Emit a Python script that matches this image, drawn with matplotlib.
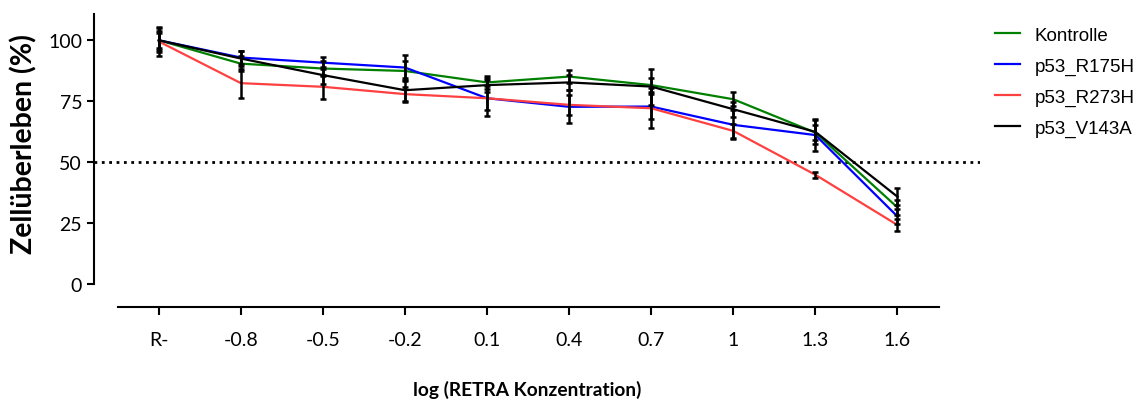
import numpy as np
import matplotlib.pyplot as plt

plt.rcParams['font.family'] = ['Lato', 'DejaVu Sans']

konz = ['R-', '-0.8', '-0.5', '-0.2', '0.1', '0.4', '0.7', '1', '1.3', '1.6']

kontrolle = [100, 90.4, 88.4, 87.4, 82.7, 85.1, 81.6, 75.8, 62.1, 31.4]
kontrolle_sd = [3, 3, 3, 4, 2.5, 2.5, 3, 2.8, 3, 3]

r175h = [100, 92.9, 90.8, 88.8, 76.2, 72.7, 72.8, 65.3, 61.1, 27.7]
r175h_sd = [4, 2.5, 2.5, 5, 5, 6.7, 5, 5.9, 6.5, 3]

r273h = [99.5, 82.4, 80.9, 77.9, 76.2, 73.5, 72.1, 62.8, 44.8, 24.2]
r273h_sd = [6, 6, 4.8, 3, 7.4, 4, 8.3, 3, 1.2, 2.6]

v143a = [100, 92.5, 85.7, 79.5, 81.6, 82.7, 81.0, 71.7, 62.4, 35.8]
v143a_sd = [5, 3, 3.5, 5, 3, 3, 7.4, 3, 5, 3.4]

series = [
    ('Kontrolle', kontrolle, kontrolle_sd, '#008000'),
    ('p53_R175H', r175h, r175h_sd, '#0000ff'),
    ('p53_R273H', r273h, r273h_sd, '#ff4040'),
    ('p53_V143A', v143a, v143a_sd, '#000000'),
]

fig = plt.figure(figsize=(11.39, 4.10), dpi=100)
ax = fig.add_axes([0.0825, 0.249, 0.7775, 0.714])

x = np.arange(len(konz))
for name, vals, sd, col in series:
    ax.plot(x, vals, color=col, lw=1.6, label=name, zorder=3)
for name, vals, sd, col in series:
    ax.errorbar(x, vals, yerr=sd, fmt='none', ecolor='black', elinewidth=1.8,
                capsize=2, capthick=1.8, zorder=4)

ax.axhline(50, color='black', ls=':', lw=2, zorder=2)

ax.set_xlim(-0.79, 10.0)
ax.set_ylim(-9.4, 110.7)
ax.spines['top'].set_visible(False)
ax.spines['right'].set_visible(False)
ax.spines['left'].set_bounds(0, 110.7)
ax.spines['bottom'].set_bounds(-0.5, 9.5)
ax.spines['left'].set_linewidth(1.5)
ax.spines['bottom'].set_linewidth(1.5)

ax.set_yticks([0, 25, 50, 75, 100])
ax.set_xticks(x)
ax.set_xticklabels(konz)
ax.tick_params(width=1.5, length=5, labelsize=14)
ax.tick_params(axis='x', length=6, pad=11)

ax.set_ylabel('Zellüberleben (%)', fontsize=20.5, fontweight='bold')
ax.yaxis.set_label_coords(-0.064, 0.56)
ax.set_xlabel('log (RETRA Konzentration)', fontsize=13.8, fontweight='bold')
ax.xaxis.set_label_coords(0.489, -0.25)

ax.legend(loc='upper left', bbox_to_anchor=(995 / 1139, 0.932),
          bbox_transform=fig.transFigure, frameon=False,
          borderaxespad=0, borderpad=0,
          prop={'family': 'Liberation Sans', 'size': 13.5},
          handlelength=1.33, labelspacing=0.73, handletextpad=0.8)

fig.savefig('out.png', dpi=100)
